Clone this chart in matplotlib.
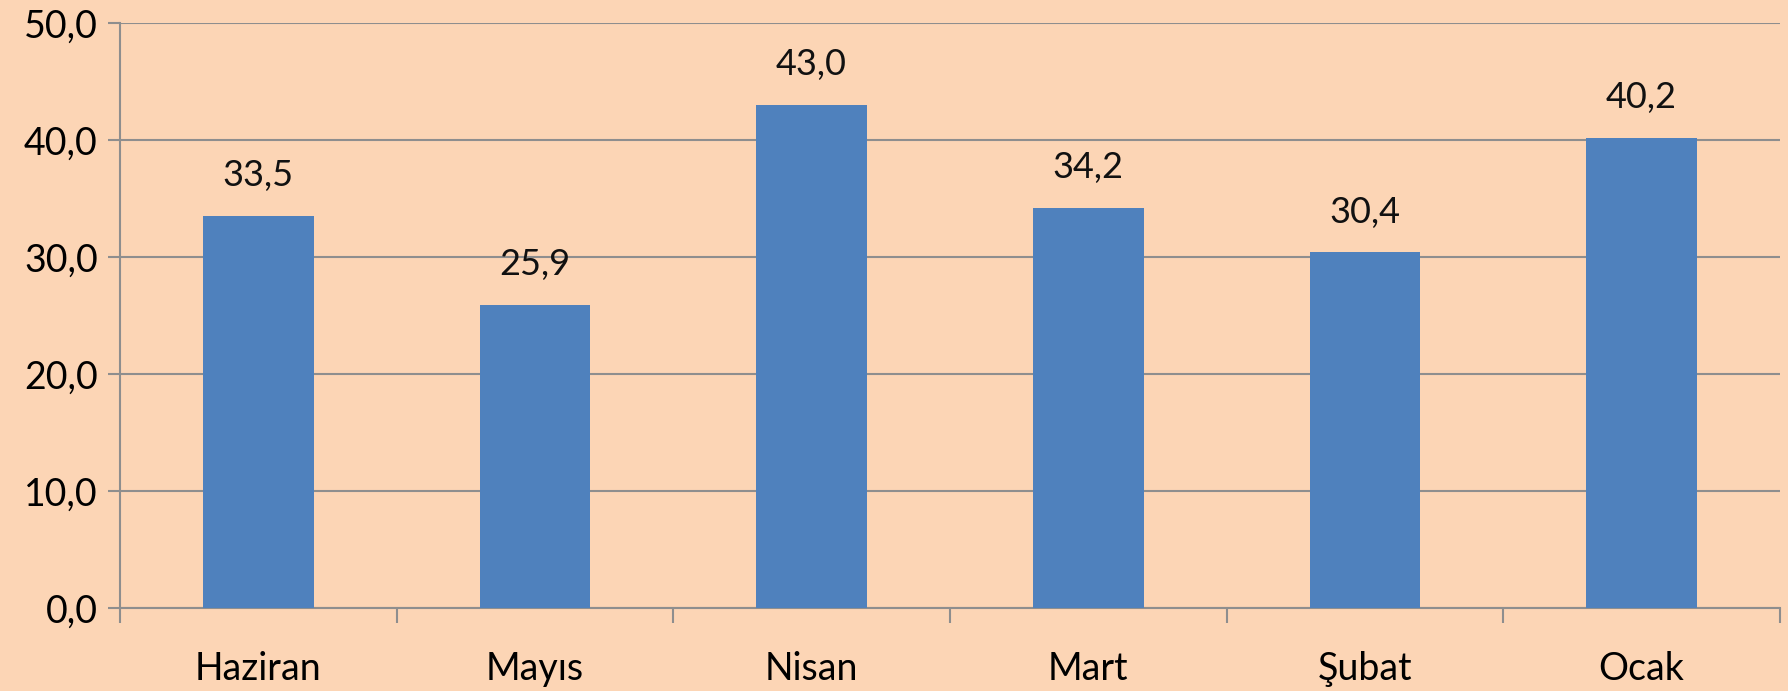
import matplotlib
matplotlib.use("Agg")
import matplotlib.pyplot as plt
import numpy as np

# Chart data
months = ["Haziran", "Mayıs", "Nisan", "Mart", "Şubat", "Ocak"]
values = [33.5, 25.9, 43.0, 34.2, 30.4, 40.2]
y_ticks = [0, 10, 20, 30, 40, 50]

BG = "#FCD5B5"
BAR = "#4F81BD"
GRID = "#8E8E8E"

plt.rcParams["font.family"] = ["Lato", "DejaVu Sans"]

fig = plt.figure(figsize=(17.88, 6.91), dpi=100, facecolor=BG)
ax = fig.add_axes([0.0671, 0.1201, 0.9284, 0.8466])
ax.set_facecolor(BG)

x = np.arange(len(months))
ax.bar(x, values, width=0.4, color=BAR, zorder=3)

for xi, v in zip(x, values):
    ax.annotate(f"{v:.1f}".replace(".", ","), (xi, v), xytext=(0, 29),
                textcoords="offset points", ha="center", va="center",
                fontsize=26, color="#111111")

ax.set_xlim(-0.5, len(months) - 0.5)
ax.set_ylim(0, 50)
ax.set_yticks(y_ticks)
ax.set_yticklabels([f"{t:.1f}".replace(".", ",") for t in y_ticks], fontsize=27)
ax.yaxis.grid(True, color=GRID, linewidth=1.5, zorder=0)

ax.set_xticks(x)
ax.set_xticklabels(months, fontsize=27)
ax.set_xticks(np.arange(-0.5, len(months)), minor=True)
ax.tick_params(axis="x", which="major", length=0, pad=31)
ax.tick_params(axis="x", which="minor", length=11, width=1.5, color=GRID)
ax.tick_params(axis="y", length=9, width=1.5, color=GRID, pad=7)

for side in ["top", "right"]:
    ax.spines[side].set_visible(False)
for side in ["left", "bottom"]:
    ax.spines[side].set_color(GRID)
    ax.spines[side].set_linewidth(1.5)

fig.savefig("out.png", dpi=100, facecolor=BG)
plt.close(fig)
